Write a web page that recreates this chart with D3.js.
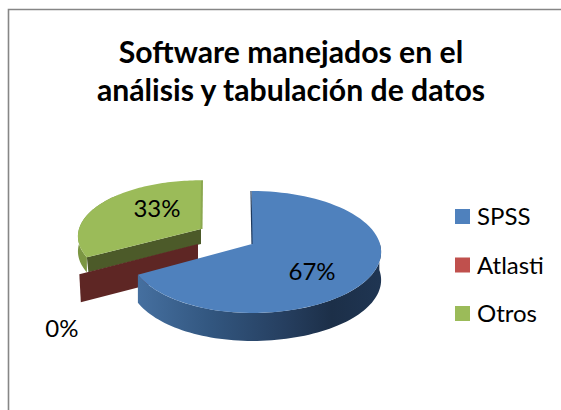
<!DOCTYPE html>
<html><head><meta charset="utf-8">
<script src="https://cdn.jsdelivr.net/npm/d3@7"></script>
<style>html,body{margin:0;padding:0;background:#fff}svg{display:block}text{font-family:Lato,Carlito,sans-serif;fill:#000}</style>
</head><body><svg id="c" width="561" height="410"></svg>
<script>
const categories = ["SPSS", "Atlasti", "Otros"];
const values = [67, 0, 33];
const titleLines = ["Software manejados en el", "análisis y tabulación de datos"];
const colors = ["#4f81bd", "#c0504d", "#9bbb59"];

const svg = d3.select("#c");
const rad = Math.PI / 180;
// perspective ellipse of the tilted pie
const cx = 252, cy = 244, Rr = 128, Rl = 122, A = 59.9, p = 0.131;
const layout = [
  {ox: 0,   oy: 0,   sx: 1,    sy: 1,    depth: 28, labelR: .5,  ldx: 1,  ldy: 12},
  {ox: -54, oy: 0,   sx: 1.04, sy: .98,  depth: 28, labelR: 1.4, ldx: 30, ldy: 43},
  {ox: -51, oy: -15, sx: 1,    sy: .92,  depth: 15, labelR: .6,  ldx: 15, ldy: -4}
];
function P(a, r, s) {
  const u = Math.sin(a), v = Math.cos(a), w = 1 + p * v;
  const R = (u < 0 ? Rl : Rr) * s.sx;
  return [cx + s.ox + R * u * r / w, cy + s.oy - A * s.sy * v * r / w];
}
const line = d3.line();
const arcs = d3.pie().sort(null).value(d => d)(values);

const defs = svg.append("defs");
const g = defs.append("linearGradient").attr("id", "blueWall").attr("gradientUnits", "userSpaceOnUse")
  .attr("x1", 139).attr("x2", 380).attr("y1", 0).attr("y2", 0);
[[0, "#456f9f"], [.3, "#32567f"], [.6, "#263f60"], [.8, "#1c2f48"], [1, "#1f3552"]]
  .forEach(d => g.append("stop").attr("offset", d[0]).attr("stop-color", d[1]));

// frame
svg.append("path").attr("d", "M8.5,410V9.5H561").attr("fill", "none").attr("stroke", "#868686").attr("stroke-width", 1.6);

// title
svg.selectAll("text.t").data(titleLines).join("text").attr("class", "t")
  .attr("x", 291).attr("y", (d, i) => 63 + i * 37.5).attr("text-anchor", "middle")
  .attr("font-size", 30.2).attr("font-weight", 700).text(d => d);

function rim(a0, a1, s, dy) {
  const n = 80;
  return d3.range(n + 1).map(i => {
    const q = P(a0 + (a1 - a0) * i / n, 1, s);
    return [q[0], q[1] + dy];
  });
}
function topFace(a0, a1, s) {
  return [P(0, 0, s)].concat(rim(a0, a1, s, 0));
}
function radialWall(a, s, dCenter, dRim) {
  const c = P(0, 0, s), e = P(a, 1, s);
  return [c, e, [e[0] + 1.5, e[1] + dRim], [c[0], c[1] + dCenter]];
}

// Otros (green)
{
  const d = arcs[2], s = layout[2];
  const a0 = d.startAngle, a1 = d.startAngle + 70 * rad;
  svg.append("path").attr("d", line(rim(a0, a1, s, 0).concat(rim(a0, a1, s, s.depth).reverse())))
     .attr("fill", "#7b9643");
  svg.append("path").attr("d", line(radialWall(d.startAngle, s, s.depth, s.depth))).attr("fill", "#4c5a29");
  svg.append("path").attr("d", line(topFace(d.startAngle, d.endAngle, s))).attr("fill", colors[2]);
  const c = P(0, 0, s), e = P(d.endAngle, 1, s);
  svg.append("line").attr("x1", c[0] + .5).attr("y1", c[1]).attr("x2", e[0] + 1).attr("y2", e[1])
     .attr("stroke", "#8ba84f").attr("stroke-width", 2);
}
// Atlasti (red, zero-width slice: only its cut wall shows)
{
  const d = arcs[1], s = layout[1];
  svg.append("path").attr("d", line(radialWall(d.startAngle, s, s.depth, s.depth))).attr("fill", "#5e2624");
}
// SPSS (blue)
{
  const d = arcs[0], s = layout[0];
  const a0 = 88 * rad, a1 = d.endAngle;
  svg.append("path").attr("d", line(rim(a0, a1, s, 0).concat(rim(a0, a1, s, s.depth).reverse())))
     .attr("fill", "url(#blueWall)");
  svg.append("path").attr("d", line(topFace(d.startAngle, d.endAngle, s))).attr("fill", colors[0]);
  const c = P(0, 0, s), e = P(0, 1, s);
  svg.append("line").attr("x1", c[0]).attr("y1", c[1]).attr("x2", e[0] - 1).attr("y2", e[1])
     .attr("stroke", "#1f3a5e").attr("stroke-width", 1.2);
}

// data labels
svg.selectAll("text.l").data(arcs).join("text").attr("class", "l")
  .attr("text-anchor", "middle").attr("font-size", 24)
  .each(function (d, i) {
    const s = layout[i], q = P((d.startAngle + d.endAngle) / 2, s.labelR, s);
    d3.select(this).attr("x", q[0] + s.ldx).attr("y", q[1] + s.ldy + 8).text(Math.round(d.value) + "%");
  });

// legend
const leg = d3.scalePoint().domain(categories).range([216.5, 313.5]);
const lg = svg.selectAll("g.lg").data(categories).join("g").attr("class", "lg")
  .attr("transform", d => `translate(0,${leg(d)})`);
lg.append("rect").attr("x", 455).attr("y", -7.5).attr("width", 15).attr("height", 15).attr("fill", (d, i) => colors[i]);
lg.append("text").attr("x", 477).attr("y", 8.5).attr("font-size", 24).text(d => d);
</script></body></html>
